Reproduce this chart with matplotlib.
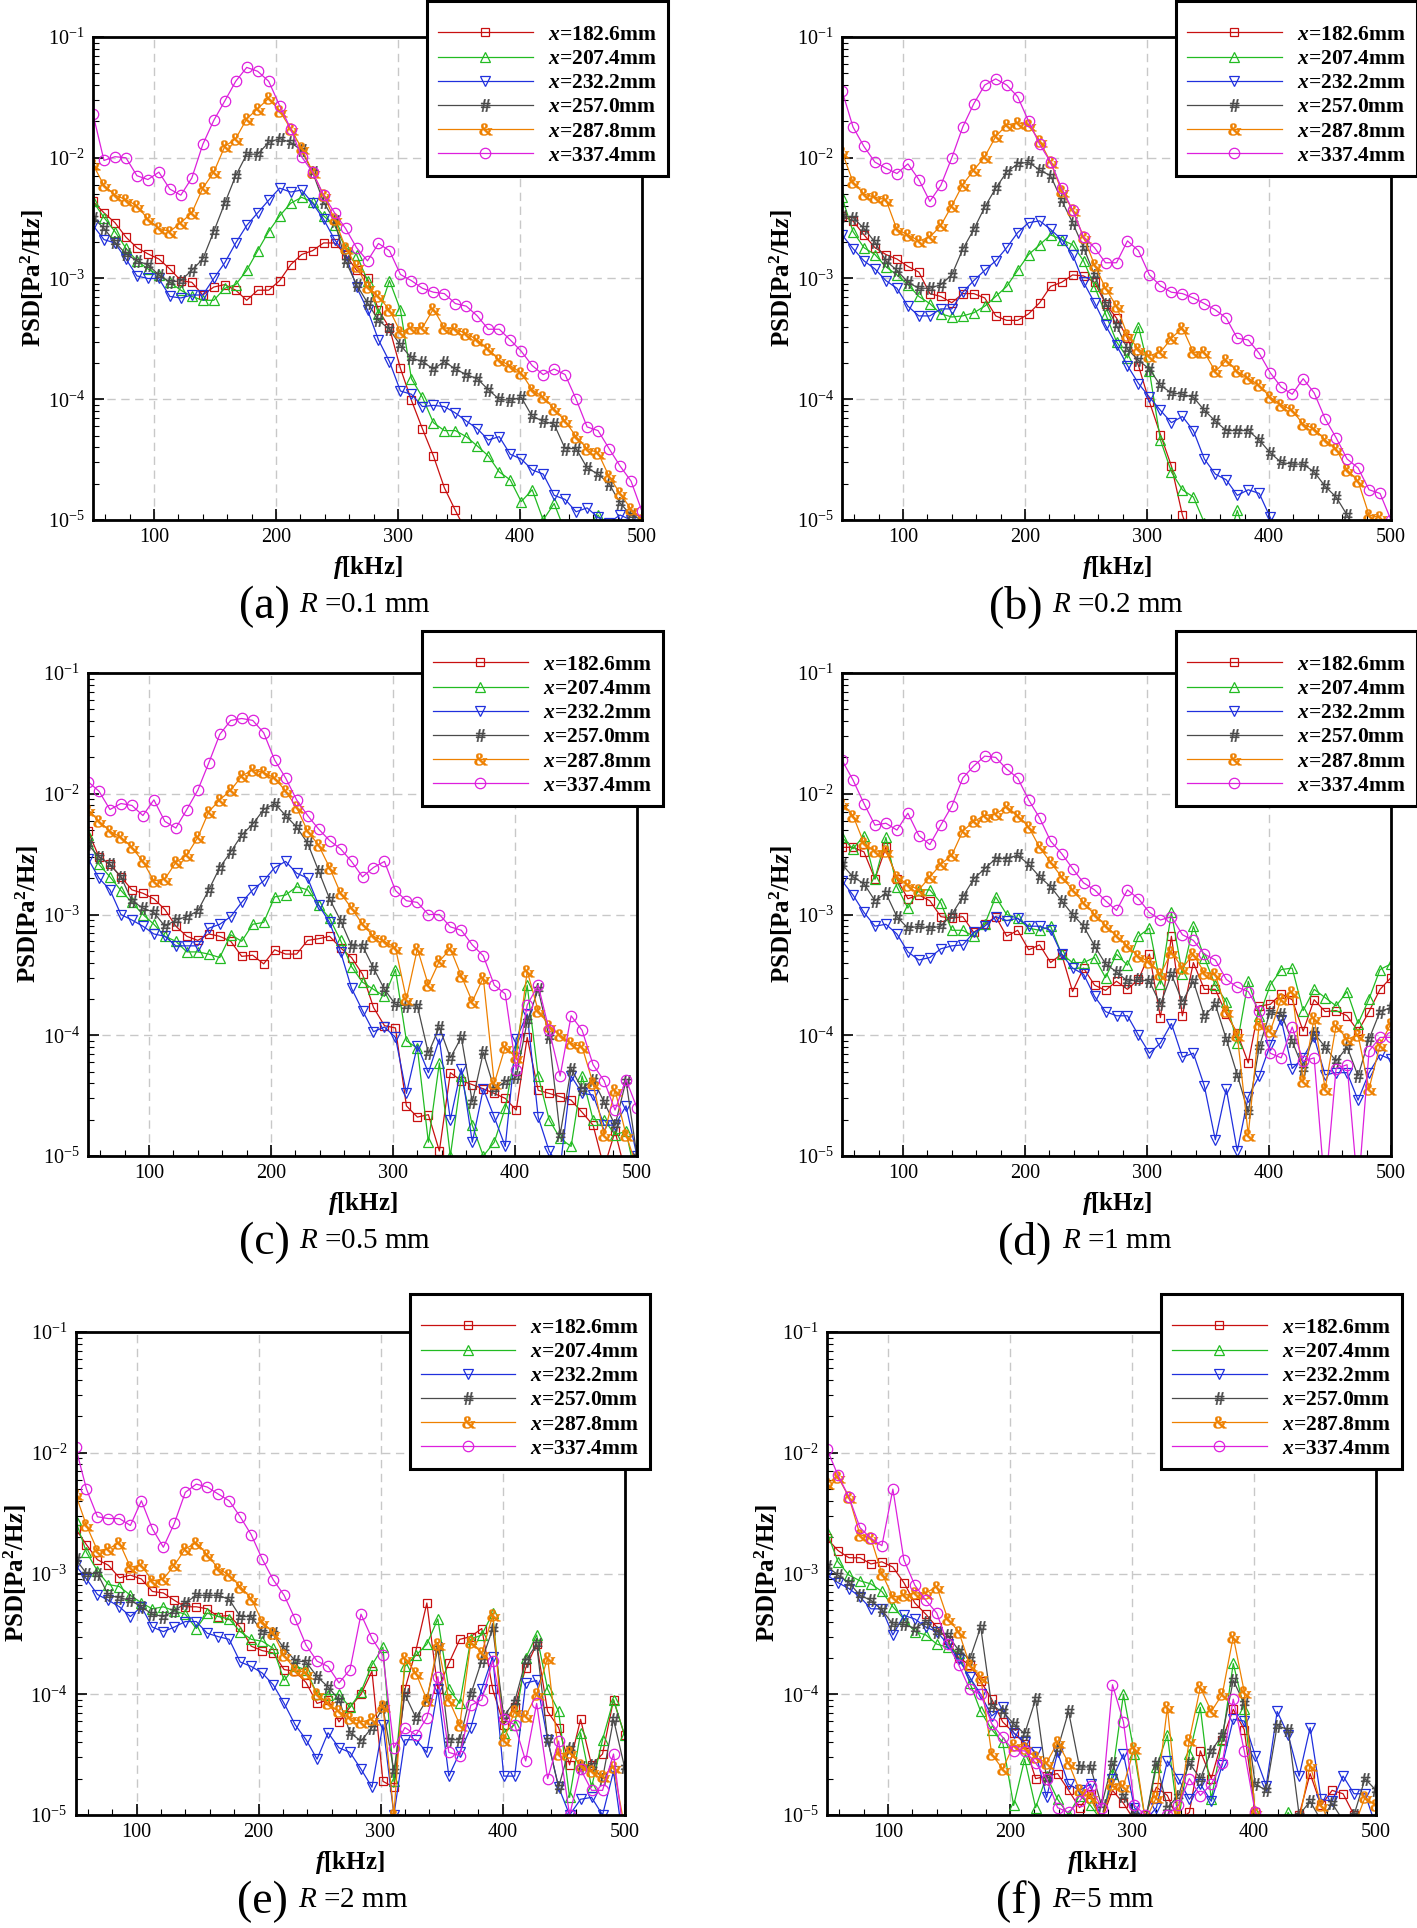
import numpy as np
import matplotlib
matplotlib.use('Agg')
import matplotlib.pyplot as plt
from matplotlib.ticker import FixedLocator, MultipleLocator, LogLocator, NullFormatter
from matplotlib.textpath import TextPath
from matplotlib.font_manager import FontProperties
from matplotlib.path import Path

plt.rcParams['font.family'] = ['Liberation Serif', 'DejaVu Serif']
plt.rcParams['mathtext.fontset'] = 'custom'
plt.rcParams['mathtext.rm'] = 'Liberation Serif'
plt.rcParams['mathtext.it'] = 'Liberation Serif:italic'
plt.rcParams['mathtext.bf'] = 'Liberation Serif:bold'
plt.rcParams['mathtext.bfit'] = 'Liberation Serif:italic:bold'

# ── data: PSD vs frequency (kHz), one grid point every 9 kHz ──
freq = np.arange(50, 501, 9)
stations = ['182.6', '207.4', '232.2', '257.0', '287.8', '337.4']

# (a) R = 0.1 mm
a_1826 = [4.35e-3, 3.5e-3, 2.9e-3, 2.2e-3, 1.8e-3, 1.6e-3, 1.45e-3, 1.2e-3, 9.6e-4, 9.3e-4,
          7.3e-4, 8.5e-4, 8.9e-4, 8.0e-4, 6.6e-4, 8.0e-4, 8.0e-4, 9.6e-4, 1.3e-3, 1.58e-3,
          1.7e-3, 1.97e-3, 1.97e-3, 1.58e-3, 1.17e-3, 1.0e-3, 5.5e-4, 3.9e-4, 1.8e-4, 9.8e-5,
          5.7e-5, 3.4e-5, 1.85e-5, 1.2e-5, 8e-6, 5e-6]
a_2074 = [4.35e-3, 3.2e-3, 2.45e-3, 1.78e-3, 1.4e-3, 1.2e-3, 1.07e-3, 9.3e-4, 8.0e-4, 7.1e-4,
          6.6e-4, 6.6e-4, 8.3e-4, 8.9e-4, 1.17e-3, 1.7e-3, 2.45e-3, 3.3e-3, 4.2e-3, 4.7e-3,
          4.3e-3, 3.3e-3, 2.75e-3, 1.8e-3, 1.58e-3, 9.6e-4, 5.1e-4, 9.6e-4, 5.5e-4, 1.48e-4,
          1.04e-4, 6.4e-5, 5.5e-5, 5.5e-5, 4.9e-5, 4.1e-5, 3.4e-5, 2.5e-5, 2.15e-5, 1.42e-5,
          1.78e-5, 1.0e-5, 1.37e-5, 8e-6, 6e-6, 7e-6, 1.1e-5, 8e-6, 7e-6, 6e-6, 5e-6]
a_2322 = [2.75e-3, 2.1e-3, 1.97e-3, 1.45e-3, 1.05e-3, 1.0e-3, 1.0e-3, 7.1e-4, 6.9e-4, 7.3e-4,
          7.3e-4, 1.0e-3, 1.35e-3, 1.97e-3, 2.75e-3, 3.5e-3, 4.45e-3, 5.6e-3, 5.2e-3, 5.4e-3,
          4.2e-3, 3.1e-3, 2.1e-3, 1.58e-3, 8.5e-4, 5.5e-4, 3.1e-4, 2.05e-4, 1.17e-4, 1.1e-4,
          8.7e-5, 8.9e-5, 8.7e-5, 7.7e-5, 6.6e-5, 5.7e-5, 4.6e-5, 4.9e-5, 3.5e-5, 3.2e-5,
          2.6e-5, 2.4e-5, 1.6e-5, 1.48e-5, 1.17e-5, 1.26e-5, 1.05e-5, 9.5e-6, 1.1e-5, 1.0e-5, 9e-6]
a_2570 = [3.2e-3, 2.6e-3, 2.0e-3, 1.6e-3, 1.4e-3, 1.3e-3, 1.07e-3, 9.3e-4, 9.6e-4, 1.17e-3,
          1.45e-3, 2.45e-3, 4.2e-3, 7.1e-3, 1.07e-2, 1.07e-2, 1.34e-2, 1.44e-2, 1.34e-2, 1.15e-2,
          7.6e-3, 4.3e-3, 3.0e-3, 1.4e-3, 8.9e-4, 6.3e-4, 4.5e-4, 3.8e-4, 2.8e-4, 2.2e-4,
          2.05e-4, 1.78e-4, 2.05e-4, 1.78e-4, 1.6e-4, 1.48e-4, 1.2e-4, 1.0e-4, 9.8e-5, 1.04e-4,
          7.2e-5, 6.6e-5, 6.2e-5, 3.9e-5, 3.9e-5, 2.7e-5, 2.4e-5, 2.0e-5, 1.38e-5, 1.1e-5, 1.0e-5]
a_2878 = [8.8e-3, 5.9e-3, 4.9e-3, 4.5e-3, 4.0e-3, 3.1e-3, 2.6e-3, 2.45e-3, 2.9e-3, 3.5e-3,
          5.6e-3, 7.6e-3, 1.24e-2, 1.44e-2, 2.1e-2, 2.55e-2, 3.1e-2, 2.45e-2, 1.74e-2, 1.2e-2,
          7.6e-3, 4.9e-3, 3.1e-3, 1.8e-3, 1.26e-3, 8.5e-4, 7.1e-4, 5.5e-4, 3.6e-4, 3.9e-4,
          3.9e-4, 5.6e-4, 3.9e-4, 3.8e-4, 3.5e-4, 3.1e-4, 2.6e-4, 2.1e-4, 1.9e-4, 1.65e-4,
          1.2e-4, 1.04e-4, 8.3e-5, 6.6e-5, 4.9e-5, 3.9e-5, 3.6e-5, 2.3e-5, 1.66e-5, 1.23e-5, 1.0e-5]
a_3374 = [2.3e-2, 9.5e-3, 1.02e-2, 1.0e-2, 7.1e-3, 6.6e-3, 7.6e-3, 5.5e-3, 4.9e-3, 6.8e-3,
          1.29e-2, 2.04e-2, 2.95e-2, 4.3e-2, 5.6e-2, 5.2e-2, 4.3e-2, 2.7e-2, 1.74e-2, 1.02e-2,
          7.6e-3, 4.9e-3, 3.5e-3, 2.6e-3, 1.8e-3, 1.4e-3, 1.95e-3, 1.7e-3, 1.08e-3, 9.6e-4,
          8.3e-4, 7.7e-4, 7.5e-4, 6.2e-4, 5.9e-4, 4.9e-4, 3.8e-4, 3.8e-4, 3.1e-4, 2.5e-4,
          1.9e-4, 1.6e-4, 1.78e-4, 1.6e-4, 1.0e-4, 5.9e-5, 5.5e-5, 3.9e-5, 2.8e-5, 2.1e-5, 1.18e-5]

# (b) R = 0.2 mm
b_1826 = [3.3e-3, 3.0e-3, 2.3e-3, 1.8e-3, 1.58e-3, 1.45e-3, 1.26e-3, 1.13e-3, 7.5e-4, 7.1e-4,
          6.3e-4, 7.5e-4, 7.5e-4, 6.9e-4, 4.9e-4, 4.5e-4, 4.5e-4, 5.1e-4, 6.3e-4, 8.6e-4,
          9.3e-4, 1.07e-3, 1.05e-3, 9.3e-4, 6.2e-4, 4.7e-4, 3.2e-4, 1.9e-4, 9.5e-5, 5.1e-5,
          2.8e-5, 1.1e-5, 6e-6]
b_2074 = [4.7e-3, 2.45e-3, 1.8e-3, 1.58e-3, 1.25e-3, 1.07e-3, 8.9e-4, 7.1e-4, 6.2e-4, 5.1e-4,
          4.8e-4, 4.9e-4, 5.2e-4, 5.9e-4, 7.1e-4, 8.6e-4, 1.17e-3, 1.58e-3, 1.9e-3, 2.3e-3,
          2.1e-3, 1.9e-3, 1.4e-3, 8.6e-4, 5.1e-4, 3.0e-4, 2.2e-4, 4.0e-4, 1.7e-4, 4.6e-5,
          2.5e-5, 1.78e-5, 1.55e-5, 9.5e-6, 7e-6, 6e-6, 1.2e-5, 6e-6, 4e-6]
b_2322 = [2.3e-3, 1.77e-3, 1.4e-3, 1.2e-3, 9.6e-4, 8.3e-4, 5.9e-4, 4.9e-4, 4.9e-4, 5.6e-4,
          5.6e-4, 7.7e-4, 9.6e-4, 1.17e-3, 1.4e-3, 1.8e-3, 2.4e-3, 2.9e-3, 3.0e-3, 2.55e-3,
          2.1e-3, 1.58e-3, 9.3e-4, 6.3e-4, 4.1e-4, 2.8e-4, 1.9e-4, 1.35e-4, 1.04e-4, 8.1e-5,
          6.4e-5, 7.2e-5, 5.5e-5, 3.2e-5, 2.4e-5, 2.15e-5, 1.6e-5, 1.78e-5, 1.66e-5, 1.05e-5, 7e-6]
b_2570 = [3.3e-3, 3.2e-3, 2.6e-3, 2.0e-3, 1.4e-3, 1.17e-3, 9.3e-4, 8.3e-4, 8.3e-4, 8.9e-4,
          1.07e-3, 1.75e-3, 2.55e-3, 3.9e-3, 5.6e-3, 7.6e-3, 8.9e-3, 9.2e-3, 7.9e-3, 7.1e-3,
          4.45e-3, 2.9e-3, 1.8e-3, 1.07e-3, 6.2e-4, 4.1e-4, 2.6e-4, 2.1e-4, 1.78e-4, 1.3e-4,
          1.13e-4, 1.1e-4, 1.04e-4, 8.1e-5, 6.6e-5, 5.5e-5, 5.5e-5, 5.5e-5, 4.6e-5, 3.6e-5,
          3.0e-5, 2.9e-5, 2.9e-5, 2.5e-5, 1.9e-5, 1.55e-5, 1.1e-5, 8e-6, 6e-6]
b_2878 = [1.12e-2, 6.3e-3, 5.0e-3, 4.7e-3, 4.5e-3, 2.55e-3, 2.3e-3, 2.05e-3, 2.2e-3, 2.75e-3,
          4.0e-3, 6.0e-3, 7.9e-3, 1.02e-2, 1.5e-2, 1.87e-2, 1.95e-2, 1.87e-2, 1.38e-2, 9.2e-3,
          5.3e-3, 3.7e-3, 2.2e-3, 1.3e-3, 8.3e-4, 5.9e-4, 3.4e-4, 2.6e-4, 2.3e-4, 2.45e-4,
          3.2e-4, 3.9e-4, 2.45e-4, 2.45e-4, 1.7e-4, 2.1e-4, 1.7e-4, 1.5e-4, 1.3e-4, 1.04e-4,
          9e-5, 8.1e-5, 6.2e-5, 5.7e-5, 4.6e-5, 3.9e-5, 2.6e-5, 2.1e-5, 1.1e-5, 1.05e-5, 8e-6]
b_3374 = [3.6e-2, 1.8e-2, 1.24e-2, 9.2e-3, 8.2e-3, 7.4e-3, 8.9e-3, 6.6e-3, 4.35e-3, 5.9e-3,
          1.0e-2, 1.8e-2, 2.8e-2, 4.0e-2, 4.5e-2, 4.0e-2, 3.2e-2, 2.0e-2, 1.29e-2, 9.2e-3,
          5.6e-3, 3.7e-3, 2.2e-3, 1.8e-3, 1.35e-3, 1.35e-3, 2.05e-3, 1.7e-3, 1.07e-3, 8.7e-4,
          7.7e-4, 7.5e-4, 6.9e-4, 6.2e-4, 5.5e-4, 4.7e-4, 3.2e-4, 3.1e-4, 2.4e-4, 1.66e-4,
          1.26e-4, 1.1e-4, 1.48e-4, 1.13e-4, 6.9e-5, 4.8e-5, 3.2e-5, 2.7e-5, 1.78e-5, 1.66e-5, 1.0e-5]

# (c) R = 0.5 mm
c_1826 = [4.9e-3, 3.0e-3, 2.6e-3, 2.05e-3, 1.6e-3, 1.5e-3, 1.35e-3, 1.1e-3, 8.0e-4, 6.6e-4,
          6.1e-4, 6.9e-4, 6.6e-4, 6.0e-4, 4.5e-4, 4.6e-4, 3.9e-4, 5.1e-4, 4.7e-4, 4.7e-4,
          6.1e-4, 6.3e-4, 6.6e-4, 5.3e-4, 4.4e-4, 3.2e-4, 1.7e-4, 1.2e-4, 1.15e-4, 2.6e-5,
          2.1e-5, 2.2e-5, 1.1e-5, 4.9e-5, 4.2e-5, 3.9e-5, 3.6e-5, 3.3e-5, 3.0e-5, 2.4e-5,
          9.6e-5, 3.5e-5, 3.3e-5, 3.1e-5, 2.9e-5, 2.3e-5, 1.8e-5, 8e-6, 1.6e-5, 7e-6, 5e-6]
c_2074 = [4.55e-3, 2.6e-3, 2.05e-3, 1.58e-3, 1.26e-3, 1.0e-3, 8.3e-4, 6.6e-4, 6.0e-4, 4.9e-4,
          4.9e-4, 4.7e-4, 4.4e-4, 6.8e-4, 6.0e-4, 8.3e-4, 8.6e-4, 1.4e-3, 1.45e-3, 1.7e-3,
          1.6e-3, 1.2e-3, 9.3e-4, 6.1e-4, 3.7e-4, 2.75e-4, 2.4e-4, 2.1e-4, 3.5e-4, 9e-5,
          7.8e-5, 1.3e-5, 5.9e-5, 1e-5, 4.6e-5, 1.8e-5, 1e-5, 1.3e-5, 2.5e-5, 7.8e-5,
          2.6e-4, 4.6e-5, 2.0e-5, 1.4e-5, 1.2e-5, 4.6e-5, 2e-5, 2e-5, 1.5e-5, 1.6e-5, 6e-6]
c_2322 = [2.9e-3, 2.0e-3, 1.6e-3, 1.0e-3, 9.0e-4, 8.0e-4, 6.9e-4, 6.6e-4, 5.5e-4, 5.5e-4,
          5.5e-4, 7.7e-4, 8.3e-4, 9.6e-4, 1.26e-3, 1.6e-3, 1.9e-3, 2.45e-3, 2.75e-3, 2.2e-3,
          2.0e-3, 1.2e-3, 8.6e-4, 4.9e-4, 2.45e-4, 1.6e-4, 1.07e-4, 1.17e-4, 9.6e-5, 3.3e-5,
          8.2e-5, 4.9e-5, 9.3e-5, 2.0e-5, 5.3e-5, 1.3e-5, 3.6e-5, 2.1e-5, 1.2e-5, 9.3e-5,
          1.5e-4, 2.1e-5, 1.1e-5, 8e-6, 4.6e-5, 3.3e-5, 3.2e-5, 1.8e-5, 1.8e-5, 2.6e-5, 1e-5]
c_2570 = [3.8e-3, 3.0e-3, 2.6e-3, 2.05e-3, 1.3e-3, 1.13e-3, 1.04e-3, 8.0e-4, 9.0e-4, 9.6e-4,
          1.07e-3, 1.6e-3, 2.45e-3, 3.3e-3, 4.55e-3, 5.6e-3, 7.4e-3, 8.3e-3, 6.6e-3, 5.3e-3,
          3.9e-3, 2.3e-3, 1.35e-3, 8.9e-4, 5.5e-4, 5.5e-4, 3.6e-4, 2.4e-4, 1.8e-4, 1.75e-4,
          1.75e-4, 7.1e-5, 1.17e-4, 6.5e-5, 9.6e-5, 2.8e-5, 7.2e-5, 3.6e-5, 4.1e-5, 4.5e-5,
          1.3e-4, 2.4e-4, 9.6e-5, 1.5e-5, 5.3e-5, 3.6e-5, 4.3e-5, 2.8e-5, 1.8e-5, 4.2e-5, 1e-5]
c_2878 = [7.4e-3, 5.9e-3, 4.9e-3, 4.35e-3, 3.6e-3, 2.75e-3, 1.9e-3, 1.97e-3, 2.7e-3, 3.1e-3,
          4.35e-3, 7.1e-3, 8.9e-3, 1.07e-2, 1.4e-2, 1.58e-2, 1.5e-2, 1.35e-2, 1.05e-2, 7.7e-3,
          4.9e-3, 3.75e-3, 2.45e-3, 1.5e-3, 1.13e-3, 8.3e-4, 6.6e-4, 6.0e-4, 5.3e-4, 2.0e-4,
          5.2e-4, 2.6e-4, 4.1e-4, 5.2e-4, 3.1e-4, 1.9e-4, 3.0e-4, 4e-5, 8e-5, 6.6e-5,
          3.4e-4, 1.6e-4, 1.2e-4, 1.0e-4, 8.6e-5, 8e-5, 4e-5, 1.5e-5, 3.5e-5, 1.5e-5, 8e-6]
c_3374 = [1.26e-2, 1.05e-2, 7.4e-3, 8.3e-3, 8.0e-3, 6.6e-3, 8.9e-3, 5.9e-3, 5.2e-3, 7.4e-3,
          1.07e-2, 1.8e-2, 3.1e-2, 4.05e-2, 4.2e-2, 4.05e-2, 3.2e-2, 1.9e-2, 1.35e-2, 8.9e-3,
          6.6e-3, 5.1e-3, 4.1e-3, 3.5e-3, 2.75e-3, 2.05e-3, 2.45e-3, 2.75e-3, 1.58e-3, 1.3e-3,
          1.26e-3, 1.0e-3, 1.0e-3, 7.9e-4, 7.4e-4, 5.6e-4, 4.55e-4, 2.6e-4, 2.2e-4, 5.2e-5,
          1.78e-4, 2.6e-4, 1.1e-4, 4.6e-5, 1.45e-4, 1.1e-4, 5.7e-5, 4.2e-5, 2.4e-5, 4.3e-5, 2.5e-5]

# (d) R = 1 mm
d_1826 = [3.6e-3, 3.6e-3, 3.3e-3, 1.97e-3, 3.6e-3, 1.97e-3, 1.35e-3, 1.45e-3, 1.3e-3, 9.6e-4,
          9.3e-4, 9.6e-4, 7.1e-4, 8.3e-4, 9.6e-4, 6.6e-4, 7.4e-4, 5.1e-4, 5.6e-4, 4.0e-4,
          4.7e-4, 2.3e-4, 3.6e-4, 2.6e-4, 2.35e-4, 2.8e-4, 2.4e-4, 2.9e-4, 4.7e-4, 1.4e-4,
          6.6e-4, 1.45e-4, 4.0e-4, 2.4e-4, 2.4e-4, 1.5e-4, 1.04e-4, 5.9e-5, 1.75e-4, 1.8e-4,
          2.2e-4, 1.97e-4, 1.08e-4, 1.97e-4, 1.57e-4, 1.6e-4, 1.45e-4, 1.08e-4, 1.57e-4, 2.4e-4, 3.0e-4]
d_2074 = [4.35e-3, 3.5e-3, 4.5e-3, 1.97e-3, 4.35e-3, 1.7e-3, 1.13e-3, 1.6e-3, 1.6e-3, 1.25e-3,
          7.4e-4, 7.4e-4, 6.6e-4, 8.3e-4, 1.4e-3, 1.0e-3, 9.3e-4, 7.7e-4, 7.4e-4, 8.0e-4,
          4.7e-4, 4.0e-4, 4.0e-4, 4.4e-4, 3.0e-4, 4.7e-4, 3.8e-4, 6.6e-4, 7.7e-4, 2.65e-4,
          1.04e-3, 3.2e-4, 8.0e-4, 4.4e-4, 2.6e-4, 1.9e-4, 8.6e-5, 2.8e-4, 1.45e-4, 2.6e-4,
          3.5e-4, 3.6e-4, 1.6e-4, 2.4e-4, 2.05e-4, 1.75e-4, 2.3e-4, 1.25e-4, 2.0e-4, 3.5e-4, 3.9e-4]
d_2322 = [1.9e-3, 1.45e-3, 1.04e-3, 8.0e-4, 8.3e-4, 6.9e-4, 4.9e-4, 4.2e-4, 4.4e-4, 5.2e-4,
          5.5e-4, 5.6e-4, 7.1e-4, 8.0e-4, 9.6e-4, 8.9e-4, 9.3e-4, 8.0e-4, 8.0e-4, 7.4e-4,
          4.7e-4, 3.6e-4, 3.2e-4, 2.1e-4, 1.57e-4, 1.45e-4, 1.45e-4, 1.0e-4, 7.1e-5, 8.6e-5,
          1.25e-4, 6.6e-5, 7.1e-5, 3.8e-5, 1.36e-5, 3.6e-5, 1.1e-5, 3.1e-5, 4.6e-5, 8.3e-5,
          1.35e-4, 5.3e-5, 6.5e-5, 9.6e-5, 4.7e-5, 4.9e-5, 4.9e-5, 2.9e-5, 4.9e-5, 6.9e-5, 6.3e-5]
d_2570 = [2.6e-3, 2.05e-3, 1.8e-3, 1.3e-3, 1.5e-3, 9.6e-4, 7.7e-4, 8.0e-4, 7.7e-4, 8.0e-4,
          1.0e-3, 1.4e-3, 1.97e-3, 2.4e-3, 2.9e-3, 2.9e-3, 3.1e-3, 2.6e-3, 2.05e-3, 1.7e-3,
          1.3e-3, 1.0e-3, 8.0e-4, 5.5e-4, 3.9e-4, 3.35e-4, 2.8e-4, 2.9e-4, 2.8e-4, 1.8e-4,
          3.2e-4, 1.9e-4, 2.8e-4, 1.45e-4, 1.8e-4, 9.3e-5, 4.7e-5, 2.3e-5, 8e-5, 1.57e-4,
          1.5e-4, 8.9e-5, 5.3e-5, 1.04e-4, 8e-5, 6.1e-5, 8e-5, 4.6e-5, 9.3e-5, 1.57e-4, 1.7e-4]
d_2878 = [8.3e-3, 6.6e-3, 3.9e-3, 3.35e-3, 3.35e-3, 2.05e-3, 1.77e-3, 1.6e-3, 2.05e-3, 2.6e-3,
          3.1e-3, 4.9e-3, 5.9e-3, 6.6e-3, 6.8e-3, 7.8e-3, 6.6e-3, 5.3e-3, 3.6e-3, 2.7e-3,
          2.05e-3, 1.6e-3, 1.25e-3, 1.0e-3, 8.1e-4, 6.6e-4, 5.5e-4, 4.5e-4, 4.05e-4, 3.2e-4,
          4.9e-4, 3.6e-4, 4.7e-4, 3.3e-4, 3.2e-4, 1.6e-4, 1.0e-4, 1.5e-5, 1.25e-4, 1.08e-4,
          2.0e-4, 2.3e-4, 4.2e-5, 1.4e-4, 3.6e-5, 1.2e-4, 9.3e-5, 1.0e-4, 3.6e-5, 8.3e-5, 1.25e-4]
d_3374 = [1.9e-2, 1.3e-2, 8.3e-3, 5.5e-3, 5.7e-3, 5.0e-3, 6.9e-3, 4.5e-3, 3.8e-3, 5.5e-3,
          7.9e-3, 1.35e-2, 1.7e-2, 2.05e-2, 2.0e-2, 1.6e-2, 1.35e-2, 8.9e-3, 6.3e-3, 4.05e-3,
          3.2e-3, 2.4e-3, 1.83e-3, 1.6e-3, 1.3e-3, 1.08e-3, 1.6e-3, 1.35e-3, 1.04e-3, 9.0e-4,
          9.6e-4, 6.8e-4, 6.1e-4, 4.7e-4, 4.2e-4, 2.9e-4, 2.5e-4, 2.3e-4, 1.6e-4, 7.1e-5,
          6.5e-5, 1.17e-4, 6.1e-5, 6.5e-5, 5e-6, 5.3e-5, 5.7e-5, 5e-6, 7.4e-5, 9.6e-5, 9.6e-5]

# (e) R = 2 mm
e_1826 = [2.35e-3, 1.73e-3, 1.3e-3, 1.17e-3, 9.2e-4, 9.7e-4, 9.0e-4, 7.1e-4, 6.9e-4, 6.0e-4,
          5.3e-4, 5.3e-4, 5.1e-4, 4.4e-4, 4.5e-4, 3.6e-4, 2.5e-4, 2.3e-4, 2.2e-4, 1.6e-4,
          1.55e-4, 1.25e-4, 8.4e-5, 9.0e-5, 5.9e-5, 7.8e-5, 1.0e-4, 1.55e-4, 1.9e-5, 1.7e-5,
          1.1e-4, 2.3e-4, 5.7e-4, 1.1e-4, 1.8e-4, 2.85e-4, 3.0e-4, 3.5e-4, 1.1e-4, 5.6e-5,
          7.8e-5, 1.65e-4, 2.6e-4, 7.2e-5, 5.3e-5, 2.6e-5, 6.2e-5, 2.6e-5, 3.2e-5, 9.0e-5, 4.6e-5]
e_2074 = [2.75e-3, 1.5e-3, 1.05e-3, 8.1e-4, 7.8e-4, 6.6e-4, 5.7e-4, 5.1e-4, 5.3e-4, 4.9e-4,
          4.6e-4, 3.5e-4, 4.7e-4, 4.4e-4, 4.2e-4, 3.3e-4, 2.85e-4, 2.75e-4, 2.4e-4, 1.3e-4,
          1.7e-4, 1.6e-4, 1.0e-4, 9.9e-5, 1.0e-4, 7.8e-5, 1.05e-4, 1.75e-4, 2.45e-4, 1.9e-5,
          1.7e-4, 2.1e-4, 2.6e-4, 4.2e-4, 1.1e-4, 8.4e-5, 2.85e-4, 3.1e-4, 4.7e-4, 4.8e-5,
          5.6e-5, 2.0e-4, 3.1e-4, 1.1e-4, 7.2e-5, 1.4e-5, 4.8e-5, 1.7e-5, 4.2e-5, 9.0e-5, 4.6e-5]
e_2322 = [1.17e-3, 9e-4, 6.7e-4, 6.0e-4, 5.3e-4, 4.4e-4, 5.3e-4, 3.6e-4, 3.3e-4, 3.6e-4,
          4.0e-4, 4.0e-4, 3.2e-4, 3.0e-4, 2.85e-4, 1.85e-4, 1.7e-4, 1.5e-4, 1.2e-4, 8.4e-5,
          5.6e-5, 4.2e-5, 2.9e-5, 4.8e-5, 3.6e-5, 3.3e-5, 2.4e-5, 1.7e-5, 5.6e-5, 1e-5,
          4.2e-5, 4.2e-5, 3.3e-5, 1.1e-4, 2.1e-5, 3.3e-5, 5.3e-5, 1.1e-4, 2.05e-4, 2.1e-5,
          2.1e-5, 1.24e-4, 1.3e-4, 4.2e-5, 1.7e-5, 1e-5, 1.35e-5, 1.4e-5, 1e-5, 2.3e-5, 5e-6]
e_2570 = [1.32e-3, 1.0e-3, 1.0e-3, 6.6e-4, 6.3e-4, 6.0e-4, 5.3e-4, 4.6e-4, 4.4e-4, 4.9e-4,
          5.7e-4, 6.6e-4, 6.6e-4, 6.6e-4, 6.1e-4, 4.4e-4, 4.4e-4, 3.3e-4, 3.2e-4, 2.4e-4,
          1.9e-4, 1.85e-4, 1.4e-4, 1.15e-4, 9.0e-5, 4.8e-5, 4.1e-5, 5.3e-5, 7.8e-5, 2.3e-5,
          1.0e-4, 6.4e-5, 9.0e-5, 2.4e-4, 4.2e-5, 4.2e-5, 1.0e-4, 1.9e-4, 3.5e-4, 6.6e-5,
          8.7e-5, 1.9e-4, 2.6e-4, 4.2e-5, 1.7e-5, 3.6e-5, 2.5e-5, 2.6e-5, 2.0e-5, 6.2e-5, 2.5e-5]
e_2878 = [4.55e-3, 2.5e-3, 1.55e-3, 1.6e-3, 1.8e-3, 1.13e-3, 1.17e-3, 8.7e-4, 9.0e-4, 1.17e-3,
          1.6e-3, 1.8e-3, 1.43e-3, 1.1e-3, 9.7e-4, 7.8e-4, 6.2e-4, 4.0e-4, 3.2e-4, 2.1e-4,
          1.6e-4, 1.5e-4, 1.0e-4, 8.4e-5, 7.2e-5, 6.4e-5, 5.9e-5, 6.2e-5, 8e-5, 1e-5,
          2.0e-4, 1.5e-4, 9.0e-5, 2.6e-4, 9.0e-5, 5.6e-5, 2.7e-4, 2.2e-4, 4.5e-4, 4.2e-5,
          7.2e-5, 6.6e-5, 1.0e-4, 2.0e-4, 3.2e-5, 3.3e-5, 2.6e-5, 2.3e-5, 2.1e-5, 2.5e-5, 8e-6]
e_3374 = [1.12e-2, 5.0e-3, 2.95e-3, 2.85e-3, 2.85e-3, 2.5e-3, 4.0e-3, 2.35e-3, 1.65e-3, 2.6e-3,
          4.7e-3, 5.5e-3, 5.2e-3, 4.55e-3, 4.0e-3, 2.95e-3, 2.1e-3, 1.32e-3, 8.9e-4, 6.6e-4,
          4.2e-4, 2.55e-4, 1.88e-4, 1.7e-4, 1.24e-4, 1.6e-4, 4.6e-4, 2.9e-4, 2.1e-4, 3.6e-5,
          5.3e-5, 4.6e-5, 6.4e-5, 1.4e-4, 3.3e-5, 3.1e-5, 8.1e-5, 9.0e-5, 1.9e-4, 6.2e-5,
          5.6e-5, 2.8e-5, 8.4e-5, 2.0e-5, 4.1e-5, 1e-5, 2.4e-5, 1.6e-5, 1.6e-5, 3.2e-5, 6e-6]

# (f) R = 5 mm
f_1826 = [1.95e-3, 1.55e-3, 1.35e-3, 1.35e-3, 1.2e-3, 1.25e-3, 1.13e-3, 8.4e-4, 5.7e-4, 4.6e-4,
          3.6e-4, 2.8e-4, 2.0e-4, 1.75e-4, 1.28e-4, 9.1e-5, 5.9e-5, 4.8e-5, 3.9e-5, 2.0e-5,
          2.1e-5, 2.2e-5, 1.6e-5, 1.15e-5, 1.5e-5, 9e-6, 1.6e-5, 1.25e-5, 9e-6, 1e-5,
          1.7e-5, 1.45e-5, 9e-6, 1.05e-5, 3.4e-5, 2.0e-5, 4.2e-5, 7.5e-5, 5.1e-5, 1.05e-5,
          8e-6, 7e-6, 8e-6, 1.0e-5, 2.2e-5, 1.2e-5, 1.6e-5, 1.5e-5, 1.0e-5, 8e-6, 7e-6]
f_2074 = [2.2e-3, 1.25e-3, 9.7e-4, 8.7e-4, 8.2e-4, 7.1e-4, 5.3e-4, 4.2e-4, 3.3e-4, 3.1e-4,
          2.6e-4, 2.45e-4, 2.2e-4, 1.25e-4, 7.2e-5, 5.1e-5, 4.0e-5, 1.2e-5, 2.9e-5, 1.15e-5,
          2.1e-5, 1.35e-5, 1e-5, 1.45e-5, 1.2e-5, 9e-6, 2.2e-5, 1.0e-4, 3.2e-5, 9e-6,
          2.5e-5, 4.6e-5, 9e-6, 3.2e-5, 7.8e-5, 1.35e-5, 4.2e-5, 1.8e-4, 7.5e-5, 1.05e-5,
          8e-6, 7e-6, 1.05e-5, 7e-6, 6e-6]
f_2322 = [9.7e-4, 8.4e-4, 7.5e-4, 6.4e-4, 5.1e-4, 5.1e-4, 3.1e-4, 4.5e-4, 4.2e-4, 3.6e-4,
          3.3e-4, 2.6e-4, 1.95e-4, 1.38e-4, 1.0e-4, 6.6e-5, 7.8e-5, 4.8e-5, 4.0e-5, 3.3e-5,
          1.4e-5, 3.3e-5, 1.8e-5, 1.6e-5, 1.8e-5, 9e-6, 2.0e-5, 3.2e-5, 1.15e-5, 9e-6,
          1.15e-5, 2.8e-5, 2.0e-5, 1.35e-5, 1.8e-5, 1.3e-5, 2.6e-5, 6.2e-5, 6.0e-5, 3.1e-5,
          1.75e-5, 7.2e-5, 4.6e-5, 2.1e-5, 5.3e-5, 1.35e-5, 1.3e-5, 2.1e-5, 1.5e-5, 1.5e-5, 8e-6]
f_2570 = [1.15e-3, 9.7e-4, 8.4e-4, 6.6e-4, 6.0e-4, 5.0e-4, 3.8e-4, 3.8e-4, 3.5e-4, 4.0e-4,
          3.3e-4, 3.1e-4, 2.3e-4, 1.95e-4, 3.6e-4, 8.0e-5, 7.2e-5, 5.7e-5, 4.7e-5, 9.1e-5,
          2.0e-5, 3.5e-5, 7.2e-5, 2.5e-5, 2.5e-5, 1.2e-5, 2.7e-5, 1.45e-5, 1e-5, 9e-6,
          2.7e-5, 1.15e-5, 1.45e-5, 2.7e-5, 2.0e-5, 3.4e-5, 4.6e-5, 1.3e-4, 8.4e-5, 1.8e-5,
          1.6e-5, 5.5e-5, 5.1e-5, 1e-5, 1.3e-5, 9e-6, 1.25e-5, 9e-6, 1e-5, 2.0e-5, 1.6e-5]
f_2878 = [5.6e-3, 6.3e-3, 4.3e-3, 2.1e-3, 1.95e-3, 1.0e-3, 6.4e-4, 6.6e-4, 6.9e-4, 6.9e-4,
          7.8e-4, 4.2e-4, 3.3e-4, 1.75e-4, 1.38e-4, 3.2e-5, 2.4e-5, 3.8e-5, 3.6e-5, 3.0e-5,
          2.7e-5, 4.0e-5, 2.7e-5, 1.6e-5, 1.4e-5, 9e-6, 1.8e-5, 1.75e-5, 3.6e-5, 9e-6,
          1.4e-5, 7.8e-5, 1e-5, 4.2e-5, 1.14e-4, 7.2e-5, 1.0e-4, 3.0e-4, 1.05e-4, 1.05e-5,
          9e-6, 8e-6, 7e-6, 9e-6, 2.6e-5, 1.2e-5, 8e-6, 7e-6, 8e-6, 1.4e-5, 1.2e-5]
f_3374 = [1.07e-2, 6.5e-3, 4.3e-3, 2.4e-3, 1.95e-3, 1.7e-3, 5.0e-3, 1.3e-3, 8.0e-4, 6.0e-4,
          4.7e-4, 2.6e-4, 1.75e-4, 1.1e-4, 1.0e-4, 5.7e-5, 4.4e-5, 3.4e-5, 3.4e-5, 2.7e-5,
          2.0e-5, 1.15e-5, 1.05e-5, 1.3e-5, 1.75e-5, 1.15e-5, 1.2e-4, 5.9e-5, 1.2e-5, 1e-5,
          9e-6, 1e-5, 1.2e-5, 2.0e-5, 1.45e-5, 1.8e-5, 2.7e-5, 9.1e-5, 3.4e-5, 1.05e-5,
          8e-6, 6e-6]

panel_tags = ['(a)', '(b)', '(c)', '(d)', '(e)', '(f)']
panel_R = [r'$\mathit{R}$ =0.1 mm', r'$\mathit{R}$ =0.2 mm', r'$\mathit{R}$ =0.5 mm',
           r'$\mathit{R}$ =1 mm', r'$\mathit{R}$ =2 mm', r'$\mathit{R}$=5 mm']
panel_series = [
    [a_1826, a_2074, a_2322, a_2570, a_2878, a_3374],
    [b_1826, b_2074, b_2322, b_2570, b_2878, b_3374],
    [c_1826, c_2074, c_2322, c_2570, c_2878, c_3374],
    [d_1826, d_2074, d_2322, d_2570, d_2878, d_3374],
    [e_1826, e_2074, e_2322, e_2570, e_2878, e_3374],
    [f_1826, f_2074, f_2322, f_2570, f_2878, f_3374],
]


def glyph_marker(ch):
    # centred outline of a bold serif character, usable as a marker
    tp = TextPath((0, 0), ch, size=10,
                  prop=FontProperties(family='Liberation Serif', weight='bold'))
    v = tp.vertices.copy()
    lo, hi = v.min(axis=0), v.max(axis=0)
    v -= (lo + hi) / 2
    return Path(v, tp.codes)


# ── styles ──
COLORS = ['#C81010', '#22BB22', '#2030DD', '#4A4A4A', '#EE8000', '#DD20DD']
MARKERS = ['s', '^', 'v', glyph_marker('#'), glyph_marker('&'), 'o']
MSIZES = [5.5, 6.5, 6.5, 9, 10, 7.5]

# ── layout (pixel positions) ──
W, H = 1417, 1928
AX_W, AX_H = 549, 483
ax_pos = [(93, 37), (842, 37), (88, 673), (842, 673), (75.5, 1332), (827, 1332)]
leg_top = [1, 1, 631, 631, 1294, 1294]
cap_split = [0.364, 0.371, 0.373, 0.388, 0.393, 0.398]

fig = plt.figure(figsize=(W / 100, H / 100), dpi=100, facecolor='white')

for k in range(6):
    left, top = ax_pos[k]
    ax = fig.add_axes([left / W, 1 - (top + AX_H) / H, AX_W / W, AX_H / H])

    for i, vals in enumerate(panel_series[k]):
        filled = i in (3, 4)
        ax.plot(freq[:len(vals)], vals, color=COLORS[i], lw=0.9,
                marker=MARKERS[i], ms=MSIZES[i], mew=0.3 if filled else 0.9,
                mfc=COLORS[i] if filled else 'none', mec=COLORS[i],
                label=r'$\mathbfit{x}$=' + stations[i] + 'mm')

    ax.set_yscale('log')
    ax.set_xlim(50, 500)
    ax.set_ylim(1e-5, 1e-1)
    ax.xaxis.set_major_locator(FixedLocator([100, 200, 300, 400, 500]))
    ax.xaxis.set_minor_locator(MultipleLocator(20))
    ax.yaxis.set_major_locator(LogLocator(base=10, numticks=10))
    ax.yaxis.set_minor_locator(LogLocator(base=10, subs=np.arange(2, 10), numticks=20))
    ax.yaxis.set_minor_formatter(NullFormatter())
    ax.tick_params(which='both', direction='in', top=False, right=False, labelsize=14.5, pad=6)
    ax.tick_params(which='major', length=8, width=1.2)
    ax.tick_params(which='minor', length=4, width=0.8)
    ax.grid(True, which='major', ls=(0, (6, 4)), color='#c8c8c8', lw=1)
    for s in ax.spines.values():
        s.set_linewidth(2)
        s.set_color('black')

    ax.text(0.5, -0.098, r'$\mathbfit{f}$[kHz]', transform=ax.transAxes,
            ha='center', va='center', fontsize=18, fontweight='bold')
    ax.text(-0.11, 0.5, r'PSD[Pa$^{\mathbf{2}}$/H$\mathbfit{z}$]', transform=ax.transAxes,
            rotation=90, ha='center', va='center', fontsize=18, fontweight='bold')

    ax.text(cap_split[k] - 0.006, -0.18, panel_tags[k], transform=ax.transAxes,
            ha='right', va='center', fontsize=33)
    ax.text(cap_split[k] + 0.012, -0.175, panel_R[k], transform=ax.transAxes,
            ha='left', va='center', fontsize=21)

    anchor_y = 1 + (top - leg_top[k]) / AX_H
    leg = ax.legend(loc='upper right', bbox_to_anchor=(1.047, anchor_y), borderaxespad=0,
                    prop={'size': 15.5, 'weight': 'bold'}, handlelength=4.4, handletextpad=0.7,
                    labelspacing=0.19, borderpad=0.5, fancybox=False, framealpha=1,
                    edgecolor='black', title=' ', title_fontsize=7)
    leg.get_frame().set_linewidth(2.2)
    leg.set_zorder(10)

fig.savefig('out.png', dpi=100, facecolor='white')
